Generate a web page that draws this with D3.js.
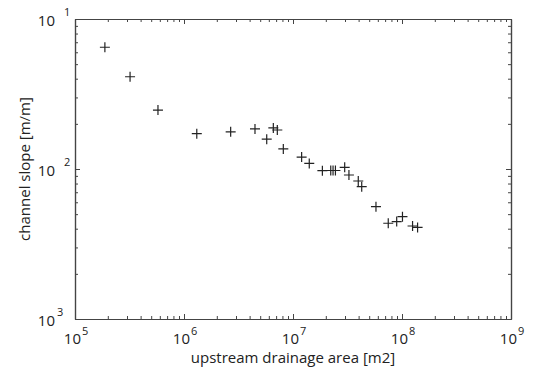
<!DOCTYPE html>
<html>
<head>
<meta charset="utf-8">
<script src="https://cdn.jsdelivr.net/npm/d3@7"></script>
<style>
  body { margin: 0; background: #fff; }
  svg text { font-family: "Open Sans", sans-serif; fill: #222; }
  .axis path, .axis line { stroke: #444; }
</style>
</head>
<body>
<svg id="chart" width="533" height="371"></svg>
<script>
// drainage area [m2] and channel slope [m/m]
const areas = [1.88e5, 3.2e5, 5.77e5, 1.31e6, 2.68e6, 4.48e6, 5.74e6, 6.6e6, 7.18e6, 8.15e6,
  1.2e7, 1.41e7, 1.86e7, 2.22e7, 2.33e7, 2.45e7, 2.98e7, 3.26e7, 3.97e7, 4.27e7,
  5.77e7, 7.48e7, 8.94e7, 1.01e8, 1.25e8, 1.39e8];
const slopes = [0.0648, 0.0412, 0.0247, 0.0172, 0.0177, 0.0185, 0.0158, 0.0188, 0.0182, 0.0136,
  0.0120, 0.0109, 0.00975, 0.00977, 0.00977, 0.00977, 0.01026, 0.00912, 0.00832, 0.00762,
  0.00561, 0.00435, 0.00446, 0.00481, 0.00417, 0.00408];

const xDecades = [1e5, 1e6, 1e7, 1e8, 1e9];
const xTickLabels = ['5', '6', '7', '8', '9'];
const yDecades = [1e-1, 1e-2, 1e-3];
const yTickLabels = ['1', '2', '3']; // minus sign is missing in the original

const margin = {top: 19, right: 22, bottom: 52, left: 75};
const width = 533 - margin.left - margin.right;
const height = 371 - margin.top - margin.bottom;

const svg = d3.select('#chart');
const chart = svg.append('g')
  .attr('transform', 'translate(' + margin.left + ',' + margin.top + ')');

const x = d3.scaleLog().domain([1e5, 1e9]).range([0, width]);
const y = d3.scaleLog().domain([1e-3, 1e-1]).range([height, 0]);

// minor ticks 2..9 in each decade
const minorTicks = (decs) => {
  const out = [];
  decs.slice(0, -1).forEach(d => {
    for (let k = 2; k <= 9; k++) out.push(d * k);
  });
  return out;
};
const xMinor = minorTicks(xDecades);
const yMinor = minorTicks(yDecades.slice().reverse());

function addAxis(axisFn, scale, ticks, size, transform) {
  chart.append('g')
    .attr('class', 'axis')
    .attr('transform', transform)
    .call(axisFn(scale).tickValues(ticks).tickSize(size).tickSizeOuter(0).tickFormat(''));
}

addAxis(d3.axisBottom, x, xMinor, -3, 'translate(0,' + height + ')');
addAxis(d3.axisBottom, x, xDecades, -5, 'translate(0,' + height + ')');
addAxis(d3.axisTop, x, xMinor, -3, 'translate(0,0)');
addAxis(d3.axisTop, x, xDecades, -5, 'translate(0,0)');
addAxis(d3.axisLeft, y, yMinor, -3, 'translate(0,0)');
addAxis(d3.axisLeft, y, yDecades, -5, 'translate(0,0)');
addAxis(d3.axisRight, y, yMinor, -3, 'translate(' + width + ',0)');
addAxis(d3.axisRight, y, yDecades, -5, 'translate(' + width + ',0)');

chart.selectAll('.axis path').attr('stroke-width', 1.2);

// tick labels: "10" plus a separate superscript exponent
xDecades.forEach((d, i) => {
  chart.append('text')
    .attr('x', x(d) + 6)
    .attr('y', height + 25)
    .attr('text-anchor', 'end')
    .style('font-size', '15px')
    .text('10');
  chart.append('text')
    .attr('x', x(d) + 7)
    .attr('y', height + 16)
    .style('font-size', '11px')
    .text(xTickLabels[i]);
});

yDecades.forEach((d, i) => {
  chart.append('text')
    .attr('x', -20)
    .attr('y', y(d) + 7)
    .attr('text-anchor', 'end')
    .style('font-size', '15px')
    .text('10');
  chart.append('text')
    .attr('x', i < 2 ? -11 : -18)
    .attr('y', y(d) - 3)
    .style('font-size', '11px')
    .text(yTickLabels[i]);
});

// axis titles
chart.append('text')
  .attr('x', width / 2)
  .attr('y', height + 44)
  .attr('text-anchor', 'middle')
  .style('font-size', '15px')
  .text('upstream drainage area [m2]');

chart.append('text')
  .attr('transform', 'translate(-45,' + (height / 2) + ') rotate(-90)')
  .attr('text-anchor', 'middle')
  .style('font-size', '15px')
  .text('channel slope [m/m]');

// plus markers
const r = 5;
const pts = areas.map((a, i) => ({a: a, s: slopes[i]}));
chart.selectAll('.pt')
  .data(pts)
  .enter().append('path')
  .attr('class', 'pt')
  .attr('d', d => {
    const px = x(d.a), py = y(d.s);
    return 'M' + (px - r) + ',' + py + 'H' + (px + r) + 'M' + px + ',' + (py - r) + 'V' + (py + r);
  })
  .attr('stroke', '#222')
  .attr('stroke-width', 1.2)
  .attr('fill', 'none');
</script>
</body>
</html>
